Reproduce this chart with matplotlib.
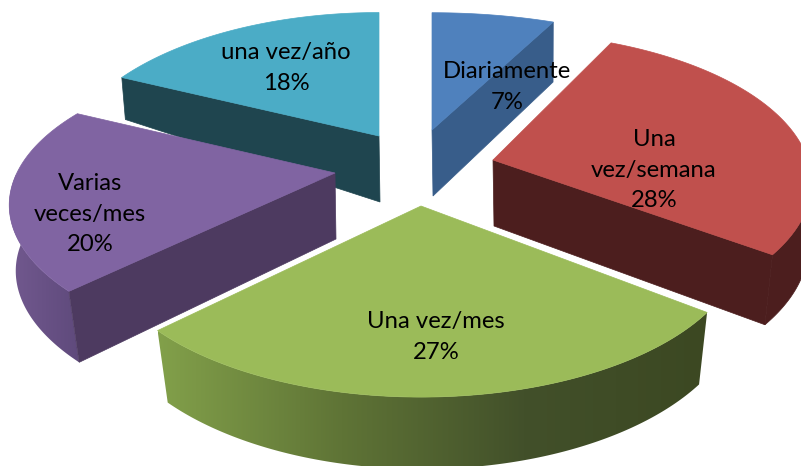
import matplotlib.pyplot as plt
import numpy as np
from matplotlib.colors import LinearSegmentedColormap
from matplotlib.patches import Polygon

percent = [7, 28, 27, 20, 18]
label_lines = ["Diariamente", "Una\nvez/semana", "Una vez/mes", "Varias\nveces/mes", "una vez/año"]

# layout, in pixels of the 801x466 picture
apex = [(432, 130), (493, 160), (421, 206), (335, 173), (379, 136)]
outer_depth = [60, 70, 72, 71, 42]
rx_scale = [1.08, 1.0, 1.0, 1.01, 0.985]
ry_scale = [0.95, 0.98, 1.0, 0.95, 1.0]
perspective = [0.215, 0.15, 0.215, 0.215, 0.215]
turn_deg = [0, 0, 2, 2, 0]
label_pos = [(507, 87), (654, 170), (436, 337), (90, 214), (286, 68)]
draw_order = [4, 0, 3, 1, 2]

top_colors = ["#4f81bd", "#c0504d", "#9bbb59", "#8064a2", "#4bacc6"]
face_colors = ["#385d8a", "#4c1e1e", "#3f4c23", "#4d3a60", "#1f454f"]
band_stops = [
    ["#385d8a", "#385d8a"],
    ["#4c1e1e", "#4c1e1e"],
    ["#82a04a", "#5f7436", "#42502a", "#3c4822"],
    ["#72598f", "#5f4a7c"],
    ["#1f454f", "#1f454f"],
]

RX, RY = 315, 150
APEX_DEPTH = 66


def fill(ax, pts, color, z):
    ax.add_patch(Polygon(pts, closed=True, facecolor=color, edgecolor=color, lw=0.5, zorder=z))


def gradient_fill(ax, pts, stops, z):
    cmap = LinearSegmentedColormap.from_list("band", stops)
    xmin, xmax = pts[:, 0].min(), pts[:, 0].max()
    ymin, ymax = pts[:, 1].min(), pts[:, 1].max()
    im = ax.imshow(
        np.linspace(0, 1, 256).reshape(1, -1),
        cmap=cmap,
        extent=(xmin, xmax, ymax, ymin),
        aspect="auto",
        interpolation="bilinear",
        zorder=z,
    )
    im.set_clip_path(Polygon(pts, closed=True, transform=ax.transData))


def draw_slice(ax, i, start, stop, z):
    x0, y0 = apex[i]
    theta = np.linspace(start, stop, 160)
    s = 1 / (1 + perspective[i] * np.cos(theta))
    dx = RX * rx_scale[i] * np.sin(theta) * s
    dy = -RY * ry_scale[i] * np.cos(theta) * s
    top = np.column_stack([x0 + dx, y0 + dy])
    # the lower rim pulls in towards the centre, more so at the front
    shrink = 0.99 - 0.035 * np.maximum(-np.cos(theta), 0)
    low = np.column_stack([x0 + 1 + dx * shrink, y0 + dy + outer_depth[i]])
    apex_low = (x0 + 1, y0 + APEX_DEPTH)

    # outer wall, front half only
    front = np.cos(theta) < 0
    if front.any():
        wall = np.vstack([top[front], low[front][::-1]])
        if band_stops[i][0] == band_stops[i][-1]:
            fill(ax, wall, band_stops[i][0], z)
        else:
            gradient_fill(ax, wall, band_stops[i], z)

    # a cut wall shows only when it looks towards the viewer
    if np.sin(start) < -1e-6:
        fill(ax, [top[0], (x0, y0), apex_low, low[0]], face_colors[i], z + 0.1)
    if np.sin(stop) > 1e-6:
        fill(ax, [top[-1], (x0, y0), apex_low, low[-1]], face_colors[i], z + 0.1)

    fill(ax, np.vstack([[(x0, y0)], top]), top_colors[i], z + 0.2)


fig = plt.figure(figsize=(8.01, 4.66), dpi=100)
ax = fig.add_axes([0, 0, 1, 1])

edges = np.radians(np.concatenate([[0], np.cumsum(percent)]) * 3.6)
for z, i in enumerate(draw_order):
    turn = np.radians(turn_deg[i])
    draw_slice(ax, i, edges[i] + turn, edges[i + 1] + turn, z + 1)

for i, (x, y) in enumerate(label_pos):
    ax.text(
        x,
        y,
        f"{label_lines[i]}\n{percent[i]}%",
        ha="center",
        va="center",
        family="Lato",
        fontsize=17.2,
        linespacing=1.55,
        color="black",
        zorder=10,
    )

ax.set_xlim(0, 801)
ax.set_ylim(466, 0)
ax.axis("off")
fig.savefig("out.png", dpi=100)
